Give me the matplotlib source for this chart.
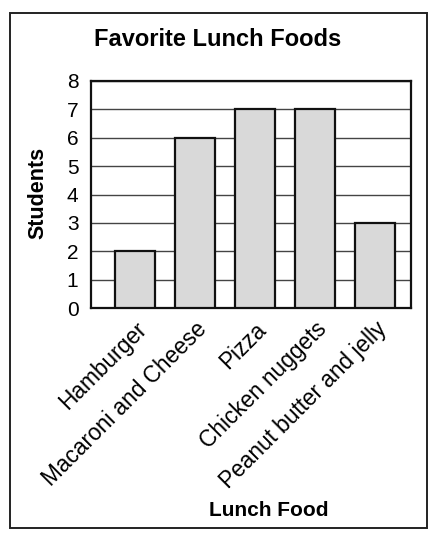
import matplotlib
matplotlib.use("Agg")
import matplotlib.pyplot as plt
from matplotlib.patches import Rectangle

foods = ["Hamburger", "Macaroni and Cheese", "Pizza", "Chicken nuggets", "Peanut butter and jelly"]
students = [2, 6, 7, 7, 3]
yticks = [0, 1, 2, 3, 4, 5, 6, 7, 8]

plt.rcParams['font.family'] = ['Liberation Sans', 'DejaVu Sans']

fig = plt.figure(figsize=(4.31, 5.35), dpi=100)
fig.patch.set_facecolor('white')

# outer frame
fig.add_artist(Rectangle((10/431, 1-528/535), 417/431, 515/535, transform=fig.transFigure,
                         fill=False, edgecolor='#222222', linewidth=1.4))

ax = fig.add_axes([91/431, 1-308/535, 320/431, 227/535])
x = list(range(len(foods)))
ax.bar(x, students, width=0.66, color='#d9d9d9', edgecolor='#111111', linewidth=1.6, zorder=3)
ax.set_ylim(0, 8)
ax.set_xlim(-0.73, 4.6)
ax.set_yticks(yticks)
ax.set_yticklabels([str(v) for v in yticks], fontsize=15)
ax.yaxis.grid(True, color='#444444', linewidth=1.0, zorder=0)
ax.set_axisbelow(True)
ax.tick_params(axis='y', length=0, pad=9)
ax.tick_params(axis='x', length=0, pad=7)
ax.set_xticks(x)
ax.set_xticklabels(foods, rotation=45, ha='right', rotation_mode='anchor', fontsize=16.3)
for s in ax.spines.values():
    s.set_linewidth(1.6)
    s.set_color('#111111')

fig.text(218/431, 1-40/535, "Favorite Lunch Foods", ha='center', va='center',
         fontsize=17, fontweight='bold')
fig.text(38/431, 1-193/535, "Students", ha='center', va='center', rotation=90,
         fontsize=15.5, fontweight='bold')
fig.text(269/431, 1-510/535, "Lunch Food", ha='center', va='center',
         fontsize=15, fontweight='bold')

fig.savefig("out.png", dpi=100)
